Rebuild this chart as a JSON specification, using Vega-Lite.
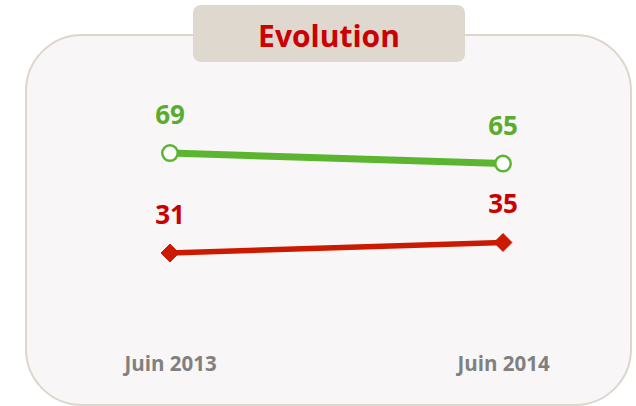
{
  "$schema": "https://vega.github.io/schema/vega-lite/v6.json",
  "width": 605,
  "height": 370,
  "autosize": {"type": "none"},
  "padding": {"left": 26, "top": 35, "right": 5, "bottom": 1},
  "background": "#ffffff",
  "config": {
    "view": {"fill": "#f8f6f7", "stroke": "#ddd6cc", "strokeWidth": 2, "cornerRadius": 56},
    "font": "Open Sans"
  },
  "datasets": {
    "points": [
      {"periode": "Juin 2013", "t": 0, "serie": "vert", "valeur": 69},
      {"periode": "Juin 2014", "t": 1, "serie": "vert", "valeur": 65},
      {"periode": "Juin 2013", "t": 0, "serie": "rouge", "valeur": 31},
      {"periode": "Juin 2014", "t": 1, "serie": "rouge", "valeur": 35}
    ]
  },
  "encoding": {
    "x": {
      "type": "quantitative",
      "scale": {"domain": [-0.4324, 1.3844], "nice": false, "zero": false},
      "axis": {
        "title": null,
        "values": [0, 1],
        "labelExpr": "datum.value == 0 ? 'Juin 2013' : 'Juin 2014'",
        "domain": false,
        "ticks": false,
        "grid": false,
        "offset": -50,
        "labelPadding": 9,
        "labelBaseline": "middle",
        "labelFontSize": 20.5,
        "labelFontWeight": "bold",
        "labelColor": "#808080",
        "labelFont": "Open Sans"
      }
    },
    "y": {
      "type": "quantitative",
      "scale": {"domain": [-26.8, 113.9], "nice": false, "zero": false},
      "axis": null
    }
  },
  "layer": [
    {
      "data": {"values": [{"x1": 0.069, "x2": 0.886, "y1": 125.3, "y2": 103.6}]},
      "mark": {"type": "rect", "fill": "#dfd8cf", "cornerRadius": 8},
      "encoding": {
        "x": {"field": "x1", "type": "quantitative"},
        "x2": {"field": "x2"},
        "y": {"field": "y1", "type": "quantitative"},
        "y2": {"field": "y2"}
      }
    },
    {
      "data": {"values": [{"titre": "Evolution", "xc": 0.4775, "yc": 112.8}]},
      "mark": {"type": "text", "fontSize": 30, "fontWeight": "bold", "color": "#cc0000", "baseline": "middle", "align": "center", "font": "Open Sans"},
      "encoding": {
        "x": {"field": "xc", "type": "quantitative"},
        "y": {"field": "yc", "type": "quantitative"},
        "text": {"field": "titre"}
      }
    },
    {
      "data": {"name": "points"},
      "transform": [{"filter": "datum.serie == 'vert'"}],
      "mark": {"type": "line", "color": "#5cb531", "strokeWidth": 7},
      "encoding": {
        "x": {"field": "t", "type": "quantitative"},
        "y": {"field": "valeur", "type": "quantitative"}
      }
    },
    {
      "data": {"name": "points"},
      "transform": [{"filter": "datum.serie == 'rouge'"}],
      "mark": {"type": "line", "color": "#cc1a00", "strokeWidth": 5.5},
      "encoding": {
        "x": {"field": "t", "type": "quantitative"},
        "y": {"field": "valeur", "type": "quantitative"}
      }
    },
    {
      "data": {"name": "points"},
      "transform": [{"filter": "datum.serie == 'vert'"}],
      "mark": {"type": "point", "shape": "circle", "filled": true, "fill": "#ffffff", "stroke": "#5cb531", "strokeWidth": 2.5, "size": 240, "opacity": 1},
      "encoding": {
        "x": {"field": "t", "type": "quantitative"},
        "y": {"field": "valeur", "type": "quantitative"}
      }
    },
    {
      "data": {"name": "points"},
      "transform": [{"filter": "datum.serie == 'rouge'"}],
      "mark": {"type": "point", "shape": "diamond", "filled": true, "fill": "#cc1a00", "stroke": "#cc1a00", "strokeWidth": 1, "size": 320, "opacity": 1},
      "encoding": {
        "x": {"field": "t", "type": "quantitative"},
        "y": {"field": "valeur", "type": "quantitative"}
      }
    },
    {
      "data": {"name": "points"},
      "mark": {"type": "text", "fontSize": 26, "fontWeight": "bold", "baseline": "middle", "dy": -37, "font": "Open Sans"},
      "encoding": {
        "x": {"field": "t", "type": "quantitative"},
        "y": {"field": "valeur", "type": "quantitative"},
        "text": {"field": "valeur", "type": "quantitative"},
        "color": {
          "field": "serie",
          "type": "nominal",
          "scale": {"domain": ["vert", "rouge"], "range": ["#5aac2e", "#c80000"]},
          "legend": null
        }
      }
    }
  ]
}
